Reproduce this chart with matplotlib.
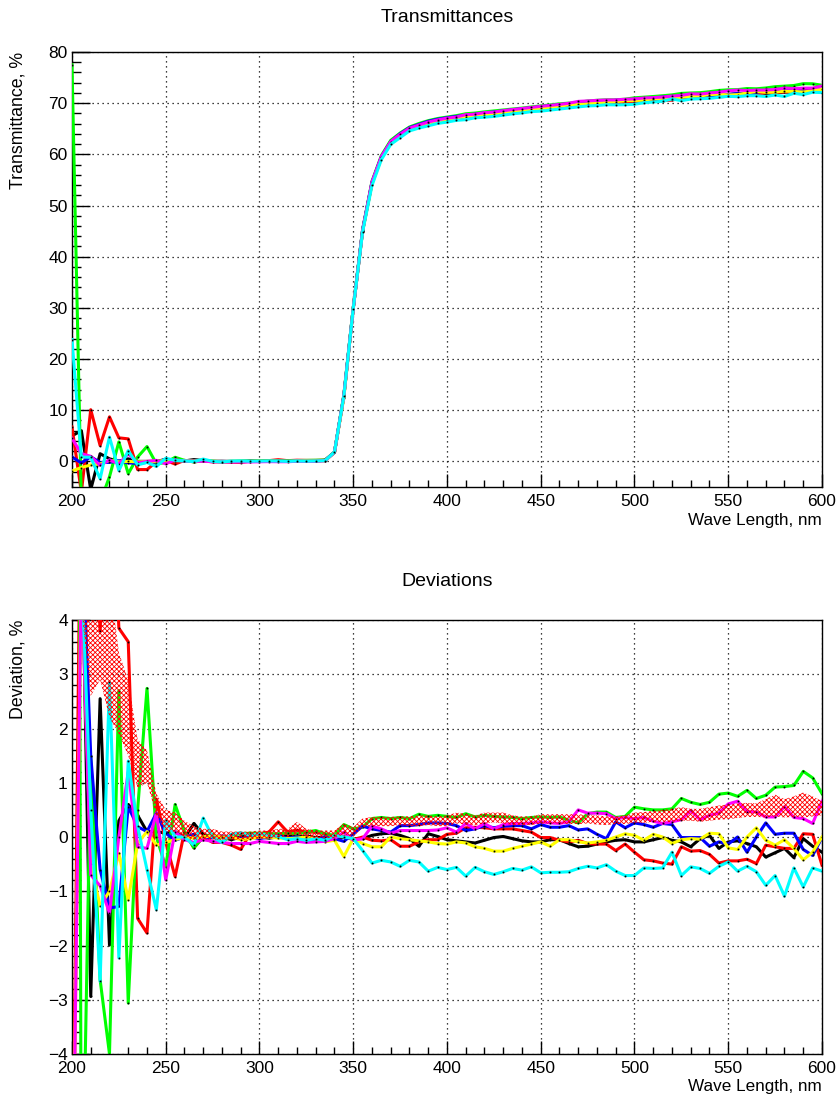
import matplotlib
matplotlib.use("Agg")
import matplotlib.pyplot as plt
from matplotlib.ticker import MultipleLocator
import numpy as np

plt.rcParams['font.family'] = ['Liberation Sans', 'DejaVu Sans']
plt.rcParams['hatch.linewidth'] = 0.6

# ***** DATA *****
# Wave length grid, nm (one point every 5 nm)
wave = np.arange(200, 601, 5)

# Mean transmittance, %
t_base = [0.5, 0.5, 0.5, 0.3, 0.3, 0.3, 0.2, 0.2, 0.2, 0.2,
          0.3, 0.2, 0.1, 0.1, 0.1, 0.0, 0.0, 0.0, 0.0, 0.0,
          0.0, 0.05, 0.05, 0.05, 0.1, 0.1, 0.1, 0.2, 1.8, 12.8,
          29.9, 45.1, 54.4, 59.4, 62.4, 63.8, 65.0, 65.6, 66.2, 66.6,
          66.9, 67.2, 67.5, 67.7, 67.9, 68.1, 68.3, 68.5, 68.7, 68.9,
          69.1, 69.3, 69.5, 69.7, 69.85, 70.0, 70.1, 70.2, 70.3, 70.4,
          70.5, 70.65, 70.8, 70.95, 71.1, 71.2, 71.35, 71.45, 71.6, 71.7,
          71.8, 71.9, 72.0, 72.1, 72.2, 72.3, 72.4, 72.5, 72.6, 72.7, 72.7]

# Transmittance in the noisy UV part (200 - 245 nm), %
t_black_uv = [5.0, 6.0, -5.5, 1.5, 0.5, 0.0, 0.5, 0.0, 0.0, 0.0]
t_red_uv = [6.7, -6.0, 10.1, 3.1, 8.7, 4.6, 4.4, -1.6, -1.6, -0.1]
t_green_uv = [77.5, -8.0, -8.0, -8.0, -3.0, 3.8, -2.4, 0.85, 2.9, -0.45]
t_blue_uv = [0.85, -0.3, 0.9, -0.2, -0.2, 0.1, -0.3, -0.4, -0.2, -0.1]
t_yellow_uv = [-1.9, -1.2, -0.7, -0.5, 0.2, -0.1, 0.0, -0.1, 0.0, 0.0]
t_magenta_uv = [4.5, 1.5, 1.0, -0.8, 0.3, -0.5, 1.5, -0.3, 0.0, 0.2]
t_cyan_uv = [23.8, 0.85, 0.8, -3.4, 4.75, -1.8, 2.1, -0.7, -0.2, -1.0]

# Deviations from the mean, %
dev_black = [-8, 6, -2.94, 2.55, -1.99, 0.3, 0.6, 0.4, 0.1, 0.1,
             0.07, 0.1, -0.02, 0.25, 0.05, 0.0, 0.0, -0.05, 0.0, 0.03,
             0.0, -0.02, 0.0, 0.03, 0.0, 0.02, -0.01, 0.0, -0.05, 0.0,
             -0.03, -0.03, 0.03, 0.06, 0.07, 0.03, -0.03, -0.17, 0.06, 0.01,
             -0.05, -0.07, -0.09, -0.11, -0.06, -0.01, 0.01, -0.03, -0.07, -0.09,
             -0.09, -0.05, -0.05, -0.12, -0.18, -0.17, -0.13, -0.09, -0.06, -0.05,
             -0.09, -0.09, -0.05, -0.01, -0.06, -0.09, -0.18, -0.03, 0.03, -0.21,
             -0.09, -0.07, -0.12, -0.18, -0.37, -0.29, -0.21, -0.38, -0.03, -0.17,
             -0.28]
dev_red = [-8, 8, 8, 3.8, 8, 3.85, 3.6, -1.5, -1.77, 0.7,
           -0.1, -0.73, 0.1, -0.2, 0.0, -0.1, -0.1, -0.15, -0.23, 0.06,
           0.06, 0.09, 0.28, 0.09, 0.13, 0.09, 0.09, 0.06, -0.01, 0.01,
           -0.05, 0.0, -0.06, -0.07, -0.05, -0.17, -0.17, -0.09, -0.05, -0.05,
           0.05, 0.07, 0.17, 0.18, 0.17, 0.15, 0.15, 0.15, 0.12, 0.09,
           -0.01, -0.01, -0.06, -0.09, -0.06, -0.12, -0.13, -0.13, -0.25, -0.13,
           -0.28, -0.42, -0.44, -0.48, -0.5, -0.18, -0.26, -0.25, -0.32, -0.48,
           -0.44, -0.44, -0.41, -0.49, -0.15, -0.18, -0.21, -0.21, 0.06, 0.05,
           -0.52]
dev_green = [60, -8, 1.5, -2.63, -4.0, 2.7, -3.06, 0.5, 2.74, 0.0,
             -0.55, 0.6, 0.1, -0.2, 0.0, 0.05, -0.1, 0.03, 0.06, 0.07,
             0.07, 0.06, 0.06, 0.07, 0.06, 0.09, 0.12, 0.06, 0.03, 0.23,
             0.15, 0.18, 0.34, 0.36, 0.34, 0.36, 0.34, 0.42, 0.38, 0.4,
             0.38, 0.36, 0.43, 0.37, 0.4, 0.38, 0.37, 0.36, 0.34, 0.36,
             0.37, 0.36, 0.37, 0.31, 0.26, 0.43, 0.46, 0.46, 0.36, 0.38,
             0.55, 0.52, 0.5, 0.5, 0.52, 0.71, 0.64, 0.6, 0.64, 0.79,
             0.81, 0.75, 0.86, 0.71, 0.77, 0.92, 0.93, 0.95, 1.21, 1.09,
             0.8]
dev_blue = [5, 6, 1.5, -0.6, -1.31, -1.28, 0.56, 0.19, 0.1, 0.44,
            0.07, -0.06, 0.0, 0.05, -0.05, 0.0, 0.02, 0.0, -0.03, 0.0,
            -0.03, 0.0, 0.02, -0.02, 0.0, -0.03, -0.05, 0.0, -0.03, -0.08,
            0.06, 0.2, 0.15, 0.12, 0.09, 0.21, 0.21, 0.23, 0.26, 0.26,
            0.25, 0.21, 0.12, 0.15, 0.21, 0.17, 0.2, 0.21, 0.21, 0.15,
            0.23, 0.18, 0.18, 0.21, 0.13, 0.15, 0.05, -0.03, 0.28, 0.17,
            0.26, 0.23, 0.18, 0.25, 0.23, -0.01, -0.01, -0.01, -0.17, -0.09,
            -0.13, 0.0, -0.28, 0.0, 0.26, 0.05, 0.07, 0.07, -0.23, -0.34,
            -0.01]
dev_yellow = [-8, 5, -0.5, -1.27, -1.0, -0.3, -1.16, -0.12, 0.1, -0.15,
              -0.1, -0.05, 0.0, -0.02, 0.0, 0.02, 0.0, 0.0, -0.05, -0.03,
              0.0, 0.0, -0.02, -0.03, -0.02, 0.0, -0.03, -0.09, -0.06, -0.36,
              -0.03, -0.12, -0.18, -0.18, 0.0, -0.03, -0.05, -0.07, -0.09, -0.12,
              -0.13, -0.09, -0.11, -0.18, -0.21, -0.26, -0.26, -0.21, -0.17, -0.13,
              -0.09, -0.17, -0.05, -0.05, -0.09, -0.11, -0.09, -0.06, 0.0, 0.06,
              0.03, -0.06, 0.05, 0.0, -0.12, -0.05, -0.03, -0.04, 0.07, 0.06,
              -0.2, -0.23, 0.0, 0.17, -0.06, -0.15, -0.05, -0.21, -0.42, -0.28,
              0.0]
dev_magenta = [-8, 5, -0.7, -0.9, -1.4, 0.0, 1.2, -0.18, -0.21, 0.44,
               -0.79, 0.1, -0.05, -0.1, -0.05, -0.08, -0.1, -0.12, -0.12, -0.12,
               -0.08, -0.1, -0.12, -0.12, -0.08, -0.1, -0.09, -0.08, -0.03, 0.09,
               -0.06, -0.03, 0.2, 0.15, 0.07, 0.12, 0.12, 0.12, 0.12, 0.13,
               0.17, 0.09, 0.25, 0.15, 0.25, 0.15, 0.23, 0.25, 0.25, 0.26,
               0.28, 0.26, 0.25, 0.28, 0.5, 0.44, 0.44, 0.43, 0.34, 0.36,
               0.34, 0.36, 0.29, 0.25, 0.28, 0.32, 0.49, 0.32, 0.4, 0.44,
               0.61, 0.66, 0.47, 0.46, 0.37, 0.37, 0.56, 0.36, 0.34, 0.25,
               0.66]
dev_cyan = [8, 5, 0.5, -2.66, 2.86, -2.23, 1.4, 0.2, -0.6, -1.34,
            0.31, 0.0, 0.0, -0.15, 0.35, 0.0, -0.1, 0.05, 0.08, 0.03,
            0.06, 0.03, 0.01, -0.05, -0.03, -0.06, -0.03, -0.06, 0.03, 0.0,
            -0.03, -0.25, -0.48, -0.43, -0.46, -0.54, -0.43, -0.46, -0.63, -0.56,
            -0.6, -0.56, -0.72, -0.56, -0.64, -0.69, -0.64, -0.58, -0.61, -0.55,
            -0.66, -0.65, -0.65, -0.64, -0.58, -0.54, -0.57, -0.51, -0.63, -0.71,
            -0.71, -0.57, -0.58, -0.57, -0.28, -0.71, -0.55, -0.58, -0.67, -0.54,
            -0.46, -0.63, -0.54, -0.64, -0.89, -0.71, -1.09, -0.57, -0.92, -0.57,
            -0.63]

# Error band of the deviations, %
band_lo = [5, 4.2, 2.6, 2.9, 2.2, 1.9, 1.5, 0.9, 1.0, 0.4,
           0.1, 0.1, 0.0, -0.05, -0.05, -0.05, -0.05, -0.05, -0.05, -0.04,
           -0.03, -0.03, 0.0, 0.0, 0.05, 0.0, -0.02, -0.02, -0.02, 0.05,
           0.0, 0.18, 0.2, 0.2, 0.2, 0.22, 0.2, 0.2, 0.22, 0.2,
           0.2, 0.25, 0.23, 0.22, 0.25, 0.27, 0.25, 0.22, 0.22, 0.22,
           0.25, 0.25, 0.25, 0.24, 0.24, 0.25, 0.23, 0.22, 0.24, 0.24,
           0.26, 0.26, 0.28, 0.27, 0.28, 0.3, 0.3, 0.28, 0.3, 0.32,
           0.33, 0.35, 0.37, 0.37, 0.36, 0.38, 0.36, 0.37, 0.36, 0.38,
           0.4]
band_hi = [8, 6, 5.5, 4.5, 4.8, 3.4, 2.9, 1.8, 1.6, 0.8,
           0.5, 0.45, 0.3, 0.2, 0.15, 0.15, 0.1, 0.1, 0.1, 0.1,
           0.12, 0.12, 0.15, 0.15, 0.28, 0.15, 0.12, 0.12, 0.12, 0.25,
           0.18, 0.34, 0.37, 0.37, 0.37, 0.38, 0.38, 0.4, 0.4, 0.38,
           0.4, 0.45, 0.43, 0.4, 0.45, 0.45, 0.45, 0.4, 0.38, 0.38,
           0.42, 0.42, 0.42, 0.42, 0.42, 0.4, 0.4, 0.38, 0.38, 0.4,
           0.45, 0.46, 0.48, 0.5, 0.52, 0.55, 0.52, 0.52, 0.55, 0.58,
           0.6, 0.62, 0.63, 0.62, 0.7, 0.78, 0.7, 0.75, 0.82, 0.75,
           0.66]

colors = ['#000000', '#ff0000', '#00ff00', '#0000ff', '#ffff00', '#ff00ff', '#00ffff']
uv_lists = [t_black_uv, t_red_uv, t_green_uv, t_blue_uv, t_yellow_uv, t_magenta_uv, t_cyan_uv]
dev_lists = [dev_black, dev_red, dev_green, dev_blue, dev_yellow, dev_magenta, dev_cyan]
n_uv = len(t_black_uv)


# ***** AXES STYLE (ROOT look) *****
def style_axes(ax, ymin, ymax, ymajor, yminor):
    ax.set_xlim(200, 600)
    ax.set_ylim(ymin, ymax)
    ax.xaxis.set_major_locator(MultipleLocator(50))
    ax.xaxis.set_minor_locator(MultipleLocator(10))
    ax.yaxis.set_major_locator(MultipleLocator(ymajor))
    ax.yaxis.set_minor_locator(MultipleLocator(yminor))
    ax.tick_params(axis='both', which='both', direction='in', top=False, right=False,
                   labelsize=12.5, width=1)
    ax.tick_params(axis='x', which='major', length=9.5, pad=5)
    ax.tick_params(axis='x', which='minor', length=4.7)
    ax.tick_params(axis='y', which='major', length=13, pad=3)
    ax.tick_params(axis='y', which='minor', length=6.5)
    ax.grid(True, which='major', color='black', linestyle=(0, (1, 3)), linewidth=0.9)
    for s in ax.spines.values():
        s.set_linewidth(1.0)


fig = plt.figure(figsize=(8.38, 10.97), dpi=100)

# ***** TRANSMITTANCES *****
ax1 = fig.add_axes([0.0859, 0.5561, 0.8950, 0.3965])
for col, uv, dev in zip(colors, uv_lists, dev_lists):
    trans = np.concatenate([uv, (np.array(t_base) + np.array(dev))[n_uv:]])
    ax1.plot(wave, trans, color=col, linewidth=2.2, marker='s', markersize=0.9,
             markerfacecolor='black', markeredgecolor='black', markeredgewidth=0.3, zorder=3)
style_axes(ax1, -5, 80, 10, 2)

# ***** DEVIATIONS *****
ax2 = fig.add_axes([0.0859, 0.0392, 0.8950, 0.3956])
for col, dev in zip(colors, dev_lists):
    ax2.plot(wave, dev, color=col, linewidth=2.2, marker='s', markersize=0.9,
             markerfacecolor='black', markeredgecolor='black', markeredgewidth=0.3, zorder=3)
ax2.fill_between(wave, band_lo, band_hi, facecolor='none', edgecolor='#ff0000',
                 hatch='xxxxxxx', linewidth=0, zorder=4)
style_axes(ax2, -4, 4, 1, 0.2)

# ***** TEXTS *****
fig.text(0.5334, 0.9836, 'Transmittances', ha='center', va='center', fontsize=14)
fig.text(0.5334, 0.4695, 'Deviations', ha='center', va='center', fontsize=14)
fig.text(0.9809, 0.5258, 'Wave Length, nm', ha='right', va='center', fontsize=12.3)
fig.text(0.9809, 0.0100, 'Wave Length, nm', ha='right', va='center', fontsize=12.3)
fig.text(0.0215, 0.9526, 'Transmittance, %', ha='center', va='top', rotation=90, fontsize=12.8)
fig.text(0.0215, 0.4348, 'Deviation, %', ha='center', va='top', rotation=90, fontsize=12.8)

fig.savefig('out.png', dpi=100)
